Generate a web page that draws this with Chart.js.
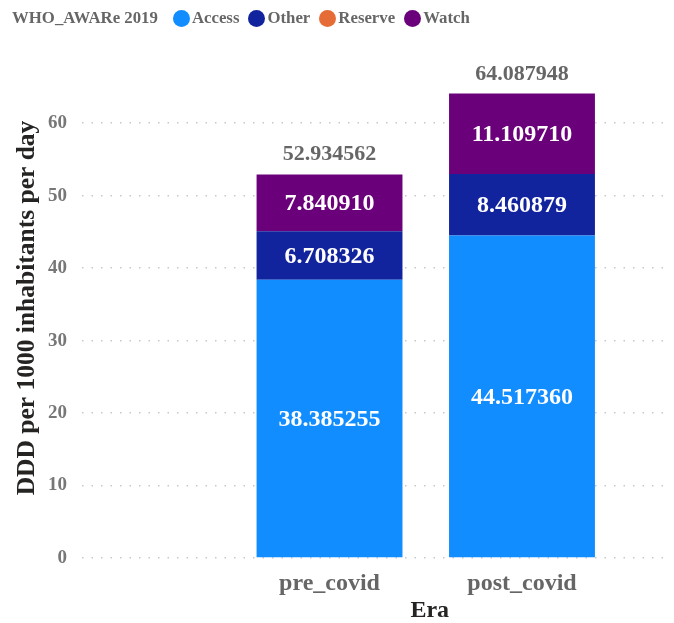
<!DOCTYPE html>
<html>
<head>
<meta charset="utf-8">
<script src="https://cdn.jsdelivr.net/npm/chart.js@4.4.0/dist/chart.umd.js"></script>
<style>
  html, body { margin: 0; padding: 0; background: #fff; }
  #wrap { position: relative; width: 674px; height: 623px; }
  #legend {
    position: absolute; left: 12px; top: 8px;
    display: flex; align-items: center;
    font: bold 16.8px "Liberation Serif", "Times New Roman", serif;
    color: #666666; white-space: nowrap;
  }
  #legend .title { margin-right: 15px; }
  #legend .item { display: flex; align-items: center; margin-right: 9px; }
  #legend .dot { width: 17px; height: 17px; border-radius: 50%; margin-right: 2px; }
</style>
</head>
<body>
<div id="wrap">
  <div id="legend"></div>
  <canvas id="chart" width="674" height="623"></canvas>
</div>
<script>
// Data
const eras = ['pre_covid', 'post_covid'];
const eraPos = [1, 2];
const legendTitle = 'WHO_AWARe 2019';
const groups = ['Access', 'Other', 'Reserve', 'Watch'];
const groupColors = ['#118DFF', '#12239E', '#E66C37', '#6B007B'];
const accessVals = [38.385255, 44.517360];
const otherVals = [6.708326, 8.460879];
const reserveVals = [null, null];
const watchVals = [7.840910, 11.109710];
const totals = [52.934562, 64.087948];
const yTicks = [0, 10, 20, 30, 40, 50, 60];

const seriesVals = [accessVals, otherVals, reserveVals, watchVals];
const FONT = '"Liberation Serif", "Times New Roman", serif';

// HTML legend
const legendEl = document.getElementById('legend');
const t = document.createElement('span');
t.className = 'title';
t.textContent = legendTitle;
legendEl.appendChild(t);
groups.forEach((g, i) => {
    const item = document.createElement('span');
    item.className = 'item';
    const dot = document.createElement('span');
    dot.className = 'dot';
    dot.style.background = groupColors[i];
    const txt = document.createElement('span');
    txt.textContent = g;
    item.appendChild(dot);
    item.appendChild(txt);
    legendEl.appendChild(item);
});

// Value labels inside segments, totals on top, x axis title
const labelPlugin = {
    id: 'barLabels',
    afterDatasetsDraw(chart) {
        const ctx = chart.ctx;
        const yScale = chart.scales.y;
        const xScale = chart.scales.x;
        ctx.save();
        ctx.textAlign = 'center';
        ctx.textBaseline = 'middle';
        ctx.font = 'bold 24px ' + FONT;
        ctx.fillStyle = '#ffffff';
        chart.data.datasets.forEach((ds, di) => {
            const meta = chart.getDatasetMeta(di);
            meta.data.forEach((bar, i) => {
                const v = seriesVals[di][i];
                if (v === null || v === undefined) return;
                ctx.fillText(v.toFixed(6), bar.x, (bar.y + bar.base) / 2 + 1);
            });
        });
        // totals
        ctx.font = 'bold 22px ' + FONT;
        ctx.fillStyle = '#666666';
        ctx.textBaseline = 'alphabetic';
        eraPos.forEach((p, i) => {
            ctx.fillText(totals[i].toFixed(6), xScale.getPixelForValue(p), yScale.getPixelForValue(totals[i]) - 14);
        });
        // x axis title, centred under the categories
        const cx = (xScale.getPixelForValue(eraPos[0]) + xScale.getPixelForValue(eraPos[eraPos.length - 1])) / 2;
        ctx.font = 'bold 24px ' + FONT;
        ctx.fillStyle = '#252423';
        ctx.textBaseline = 'middle';
        ctx.fillText('Era', cx + 4, 611);
        ctx.restore();
    }
};

const datasets = groups.map((g, i) => ({
    label: g,
    data: eraPos.map((p, j) => ({ x: p, y: seriesVals[i][j] })),
    backgroundColor: groupColors[i],
    borderWidth: 0,
    stack: 'era',
    categoryPercentage: 1,
    barPercentage: 0.758
}));

new Chart(document.getElementById('chart'), {
    type: 'bar',
    data: { datasets },
    plugins: [labelPlugin],
    options: {
        responsive: false,
        animation: false,
        layout: { padding: { left: 0, right: 4, top: 58, bottom: 0 } },
        plugins: {
            legend: { display: false },
            tooltip: { enabled: false }
        },
        scales: {
            x: {
                type: 'linear',
                offset: false,
                min: -0.286,
                max: 2.769,
                afterBuildTicks: (scale) => { scale.ticks = eraPos.map(v => ({ value: v })); },
                afterFit: (scale) => { scale.height = 65; },
                grid: { display: false },
                border: { display: false },
                ticks: {
                    padding: 3,
                    color: '#666666',
                    font: { family: FONT, size: 24, weight: 'bold' },
                    callback: (v) => eras[eraPos.indexOf(v)]
                }
            },
            y: {
                stacked: true,
                min: 0,
                max: 69,
                afterBuildTicks: (scale) => { scale.ticks = yTicks.map(v => ({ value: v })); },
                afterFit: (scale) => { scale.width = 82; },
                border: { display: false, dash: [1.5, 8] },
                grid: {
                    drawTicks: false,
                    color: '#c8c8c8',
                    lineWidth: 1.5
                },
                ticks: {
                    padding: 15,
                    color: '#777777',
                    font: { family: FONT, size: 19, weight: 'bold' }
                },
                title: {
                    display: true,
                    text: 'DDD per 1000 inhabitants per day',
                    color: '#252423',
                    padding: { top: 12, bottom: 0 },
                    font: { family: FONT, size: 25.5, weight: 'bold' }
                }
            }
        }
    }
});
</script>
</body>
</html>
